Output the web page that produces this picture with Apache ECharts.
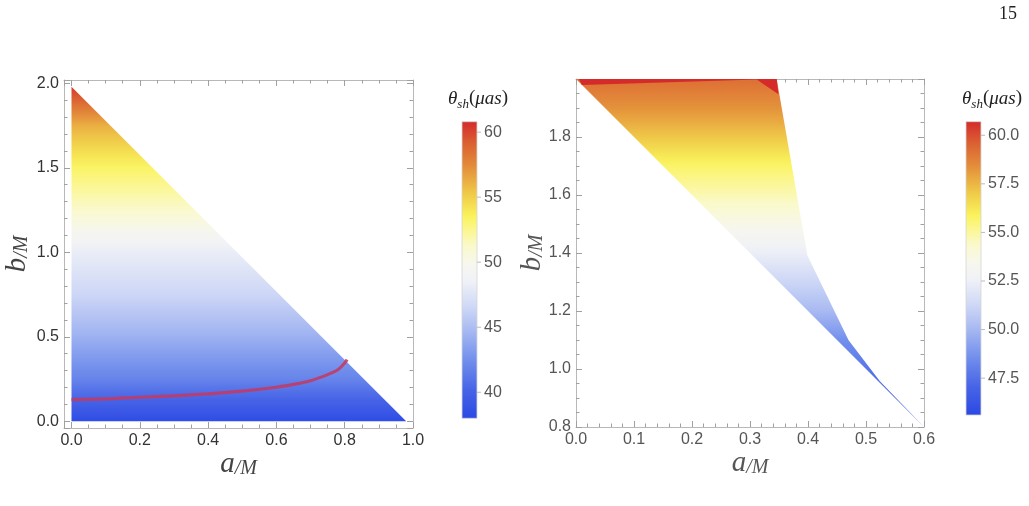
<!DOCTYPE html>
<html><head><meta charset="utf-8">
<script src="https://cdn.jsdelivr.net/npm/echarts@6/dist/echarts.min.js"></script>
<style>html,body{margin:0;padding:0;background:#fff}#c{width:1029px;height:506px}</style>
</head><body><div id="c"></div><script>
// ---------- data ----------
// Left panel: allowed region (a/M, b/M) and shadow size by b level
const leftRegionA = [0, 0, 0.98];
const leftRegionB = [0, 1.98, 0];
const leftLevelsB = [0, 0.25, 0.5, 0.75, 1.0, 1.25, 1.5, 1.75, 1.98];
const leftTheta   = [38.4, 41.9, 44.3, 46.5, 48.2, 51.2, 53.3, 56.2, 60.4];
// red curve in left panel
const curveA = [0, 0.1, 0.2, 0.3, 0.4, 0.5, 0.6, 0.65, 0.7, 0.75, 0.78, 0.8, 0.807];
const curveB = [0.128, 0.132, 0.142, 0.150, 0.162, 0.178, 0.201, 0.218, 0.240, 0.276, 0.305, 0.345, 0.365];
// Right panel: allowed region and shadow size by b level
const rightRegionA = [0, 0.346, 0.399, 0.47, 0.524, 0.6];
const rightRegionB = [2.0, 2.0, 1.391, 1.099, 0.958, 0.8];
const rightLevelsB = [0.8, 0.9, 1.0, 1.1, 1.2, 1.3, 1.4, 1.5, 1.6, 1.7, 1.8, 1.9, 2.0];
const rightTheta   = [46.3, 46.8, 47.7, 48.6, 50.1, 51.2, 52.4, 53.6, 54.7, 55.7, 57.1, 58.3, 59.2];
// saturated (above colour range) patch at top of right panel
const saturatedA = [0.005, 0.346, 0.349, 0.3115, 0.01];
const saturatedB = [2.0, 2.0, 1.947, 1.998, 1.979];
const saturatedTheta = 61;
// colour bar ranges and tick labels
const leftBarRange  = [38, 60.8];
const rightBarRange = [45.6, 60.7];
const leftBarTicks  = [40, 45, 50, 55, 60];
const rightBarTicks = [47.5, 50.0, 52.5, 55.0, 57.5, 60.0];

// ---------- colour map ----------
const cmapPos = [0.00, 0.10, 0.20, 0.30, 0.38, 0.46, 0.52, 0.58, 0.64, 0.68, 0.76, 0.85, 0.93, 1.00];
const cmapCol = ['#2b48e4','#4865e7','#7390ec','#aabbf2','#d0d9f6','#eff1f7','#f7f7ee','#faf9cc','#fbf68a','#faf35c','#efc848','#e38c3a','#da5e32','#d42a2a'];
function hex2rgb(h){return [parseInt(h.slice(1,3),16),parseInt(h.slice(3,5),16),parseInt(h.slice(5,7),16)];}
function cmap(t){
  t = Math.max(0, Math.min(1, t));
  for (let i = 0; i < cmapPos.length - 1; i++) {
    if (t <= cmapPos[i+1]) {
      const f = (t - cmapPos[i]) / (cmapPos[i+1] - cmapPos[i]);
      const a = hex2rgb(cmapCol[i]), b = hex2rgb(cmapCol[i+1]);
      return 'rgb(' + a.map((c,k)=>Math.round(c + (b[k]-c)*f)).join(',') + ')';
    }
  }
  return cmapCol[cmapCol.length-1];
}
function regionGradient(api, levels, thetas, range) {
  const y0 = api.coord([0, levels[0]])[1];
  const y1 = api.coord([0, levels[levels.length-1]])[1];
  const stops = [];
  const n = levels.length;
  for (let i = 0; i < n - 1; i++) {
    for (let k = 0; k < 4; k++) {
      const f = k / 4;
      const b = levels[i] + (levels[i+1]-levels[i]) * f;
      const v = thetas[i] + (thetas[i+1]-thetas[i]) * f;
      stops.push({offset: (b - levels[0]) / (levels[n-1] - levels[0]), color: cmap((v - range[0])/(range[1]-range[0]))});
    }
  }
  stops.push({offset: 1, color: cmap((thetas[n-1]-range[0])/(range[1]-range[0]))});
  return new echarts.graphic.LinearGradient(0, y0, 0, y1, stops, true);
}
function barGradient(){
  const stops = cmapPos.map((p,i)=>({offset: 1 - p, color: cmapCol[i]})).reverse();
  return new echarts.graphic.LinearGradient(0, 0, 0, 1, stops);
}

// ---------- styles ----------
const frameColor = '#b8b8b8';
const tickColor = '#a0a0a0';
const serif = 'Liberation Serif';
const sans = 'Liberation Sans';
function nameStyle(big, small, color){
  return {rich:{
    v:{fontFamily:serif, fontStyle:'italic', fontSize:big, color:color, verticalAlign:'bottom'},
    s:{fontFamily:serif, fontStyle:'italic', fontSize:small, color:color, verticalAlign:'bottom'}
  }};
}
function multipleFmt(step, digits){
  return v => Math.abs(v/step - Math.round(v/step)) < 1e-6 ? v.toFixed(digits) : '';
}
function frameAxis(o){
  return Object.assign({
    type:'value',
    axisLine:{show:true, onZero:false, lineStyle:{color:frameColor, width:1}},
    axisTick:{show:true, inside:true, length:6, lineStyle:{color:tickColor}},
    minorTick:{show:true, inside:true, length:3.5, lineStyle:{color:tickColor}},
    splitLine:{show:false},
    nameMoveOverlap:false
  }, o);
}
function titleText(x){
  return {type:'text', x:x, y:100, style:{text:'{t|θ}{s|sh}{p|(}{t|μas}{p|)}', align:'center', verticalAlign:'middle',
    rich:{t:{fontFamily:serif, fontStyle:'italic', fontSize:19, fill:'#222', verticalAlign:'bottom', padding:[0,0,3,0]},
          s:{fontFamily:serif, fontStyle:'italic', fontSize:13, fill:'#222', verticalAlign:'bottom'},
          p:{fontFamily:serif, fontSize:19, fill:'#222', verticalAlign:'bottom', padding:[0,0,3,0]}}}};
}
function colorBarSeries(axisIdx, range, ticks){
  return {type:'custom', xAxisIndex:axisIdx, yAxisIndex:axisIdx, silent:true, data:[[0, range[0]]],
    renderItem:(params, api) => {
      const p0 = api.coord([0, range[1]]), p1 = api.coord([1, range[0]]);
      const children = [{type:'rect', shape:{x:p0[0], y:p0[1], width:p1[0]-p0[0], height:p1[1]-p0[1]},
        style:{fill:barGradient(), stroke:'#d6d6d6', lineWidth:0.8}}];
      ticks.forEach(t => { const q = api.coord([1, t]);
        children.push({type:'line', shape:{x1:q[0], y1:q[1], x2:q[0]+4, y2:q[1]}, style:{stroke:'#bbb', lineWidth:1}}); });
      return {type:'group', children};
    }};
}

const chart = echarts.init(document.getElementById('c'), null, {renderer:'canvas'});
const option = {
  animation:false,
  backgroundColor:'#ffffff',
  grid:[
    {left:64, top:80, width:349, height:348, outerBoundsMode:'none'},
    {left:462, top:67.1, width:15, height:390.2, outerBoundsMode:'none'},
    {left:576, top:79, width:348, height:348, outerBoundsMode:'none'},
    {left:966, top:86.7, width:15, height:340, outerBoundsMode:'none'}
  ],
  xAxis:[
    frameAxis({gridIndex:0, position:'bottom', min:-0.022, max:1.0, splitNumber:5,
      minorTick:{show:true, inside:true, splitNumber:4, length:3.5, lineStyle:{color:tickColor}},
      axisLabel:{margin:5, fontSize:16, color:'#333', fontFamily:sans, formatter:multipleFmt(0.2,1)},
      name:'{v|a}{s|/M}', nameLocation:'middle', nameGap:22, nameTextStyle:nameStyle(29,20,'#444')}),
    frameAxis({gridIndex:0, position:'top', min:-0.022, max:1.0, splitNumber:5,
      minorTick:{show:true, inside:true, splitNumber:4, length:3.5, lineStyle:{color:tickColor}},
      axisLabel:{show:false}}),
    {type:'value', gridIndex:1, min:0, max:1, show:false},
    frameAxis({gridIndex:2, position:'bottom', min:0, max:0.6, interval:0.1,
      minorTick:{show:true, inside:true, splitNumber:5, length:3.5, lineStyle:{color:tickColor}},
      axisLabel:{margin:5, fontSize:16, color:'#555', fontFamily:sans, formatter:v=>v.toFixed(1)},
      name:'{v|a}{s|/M}', nameLocation:'middle', nameGap:22, nameTextStyle:nameStyle(29,20,'#555')}),
    frameAxis({gridIndex:2, position:'top', min:0, max:0.6, interval:0.1,
      minorTick:{show:true, inside:true, splitNumber:5, length:3.5, lineStyle:{color:tickColor}},
      axisLabel:{show:false}}),
    {type:'value', gridIndex:3, min:0, max:1, show:false}
  ],
  yAxis:[
    frameAxis({gridIndex:0, position:'left', min:-0.04, max:2.02, splitNumber:4,
      minorTick:{show:true, inside:true, splitNumber:5, length:3.5, lineStyle:{color:tickColor}},
      axisLabel:{margin:5, fontSize:16, color:'#333', fontFamily:sans, formatter:multipleFmt(0.5,1)},
      name:'{v|b}{s|/M}', nameLocation:'middle', nameGap:32, nameTextStyle:nameStyle(29,20,'#444')}),
    frameAxis({gridIndex:0, position:'right', min:-0.04, max:2.02, splitNumber:4,
      minorTick:{show:true, inside:true, splitNumber:5, length:3.5, lineStyle:{color:tickColor}},
      axisLabel:{show:false}}),
    {type:'value', gridIndex:1, position:'right', min:35, max:65, interval:5,
      axisLine:{show:false}, axisTick:{show:false}, splitLine:{show:false},
      axisLabel:{margin:7, fontSize:16, color:'#555', fontFamily:sans,
        formatter:v => (v >= leftBarTicks[0] && v <= leftBarTicks[leftBarTicks.length-1]) ? String(v) : ''}},
    frameAxis({gridIndex:2, position:'left', min:0.8, max:2.0, interval:0.2,
      minorTick:{show:true, inside:true, splitNumber:4, length:3.5, lineStyle:{color:tickColor}},
      axisLabel:{margin:5, fontSize:16, color:'#555', fontFamily:sans, formatter:v => v > 1.95 ? '' : v.toFixed(1)},
      name:'{v|b}{s|/M}', nameLocation:'middle', nameGap:29, nameTextStyle:nameStyle(29,20,'#555')}),
    frameAxis({gridIndex:2, position:'right', min:0.8, max:2.0, interval:0.2,
      minorTick:{show:true, inside:true, splitNumber:4, length:3.5, lineStyle:{color:tickColor}},
      axisLabel:{show:false}}),
    {type:'value', gridIndex:3, position:'right', min:45, max:62.5, interval:2.5,
      axisLine:{show:false}, axisTick:{show:false}, splitLine:{show:false},
      axisLabel:{margin:7, fontSize:16, color:'#555', fontFamily:sans,
        formatter:v => (v >= rightBarTicks[0]-1e-6 && v <= rightBarTicks[rightBarTicks.length-1]+1e-6) ? v.toFixed(1) : ''}}
  ],
  series:[
    {type:'custom', xAxisIndex:0, yAxisIndex:0, silent:true, z:1, data:[[0,0]],
      renderItem:(params, api) => ({type:'polygon',
        shape:{points: leftRegionA.map((a,i)=>api.coord([a, leftRegionB[i]]))},
        style:{fill: regionGradient(api, leftLevelsB, leftTheta, leftBarRange)}})},
    {type:'line', xAxisIndex:0, yAxisIndex:0, z:3, silent:true, symbol:'none', smooth:0.3,
      data: curveA.map((a,i)=>[a, curveB[i]]),
      lineStyle:{color:'#c23a64', width:3.2, opacity:0.88}},
    {type:'custom', xAxisIndex:3, yAxisIndex:3, silent:true, z:1, data:[[0,1]],
      renderItem:(params, api) => ({type:'polygon',
        shape:{points: rightRegionA.map((a,i)=>api.coord([a, rightRegionB[i]]))},
        style:{fill: regionGradient(api, rightLevelsB, rightTheta, rightBarRange)}})},
    {type:'custom', xAxisIndex:3, yAxisIndex:3, silent:true, z:2, data:[[0,2]],
      renderItem:(params, api) => ({type:'polygon',
        shape:{points: saturatedA.map((a,i)=>api.coord([a, saturatedB[i]]))},
        style:{fill: cmap((saturatedTheta-rightBarRange[0])/(rightBarRange[1]-rightBarRange[0]))}})},
    colorBarSeries(2, leftBarRange, leftBarTicks),
    colorBarSeries(5, rightBarRange, rightBarTicks)
  ],
  graphic:[
    {type:'text', x:1008, y:14, style:{text:'15', fill:'#222', font:'18px "Liberation Serif"', align:'center', verticalAlign:'middle'}},
    titleText(478),
    titleText(992)
  ]
};
chart.setOption(option);
</script></body></html>
